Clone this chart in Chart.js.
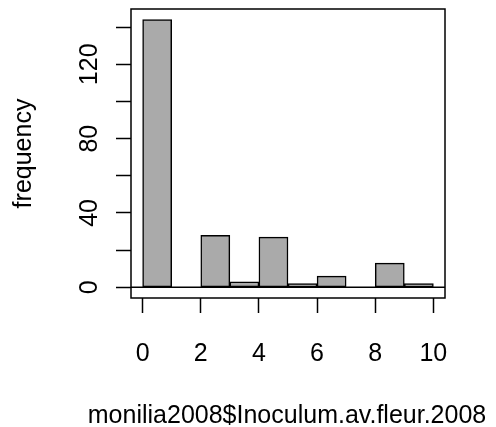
<!DOCTYPE html>
<html>
<head>
<meta charset="utf-8">
<script src="https://cdn.jsdelivr.net/npm/chart.js@4"></script>
<style>
  body { margin: 0; background: #fff; }
  #wrap { width: 496px; height: 427px; }
</style>
</head>
<body>
<div id="wrap"><canvas id="histChart"></canvas></div>
<script>
// histogram bins (width 1) and counts
const binStarts = [0, 1, 2, 3, 4, 5, 6, 7, 8, 9];
const counts = [144, 0, 28, 3, 27, 2, 6, 0, 13, 2];
const xTicks = [0, 2, 4, 6, 8, 10];
const yTicks = [0, 20, 40, 60, 80, 100, 120, 140];
const yLabelled = [0, 40, 80, 120];
const xTitle = 'monilia2008$Inoculum.av.fleur.2008';

const FONT = 'Liberation Sans, Arial, sans-serif';

// R style box, h=0 line, rotated y labels, wide x title
const rStyle = {
  id: 'rStyle',
  afterDraw(chart) {
    const { ctx, chartArea: a, scales } = chart;
    ctx.save();
    ctx.strokeStyle = '#000';
    ctx.lineWidth = 1.5;
    ctx.strokeRect(a.left, a.top, a.right - a.left, a.bottom - a.top);
    const y0 = scales.y.getPixelForValue(0);
    ctx.beginPath();
    ctx.moveTo(a.left, y0);
    ctx.lineTo(a.right, y0);
    ctx.stroke();

    ctx.fillStyle = '#000';
    ctx.font = '25px ' + FONT;
    ctx.textAlign = 'center';
    ctx.textBaseline = 'alphabetic';
    yLabelled.forEach(v => {
      const py = scales.y.getPixelForValue(v);
      ctx.save();
      ctx.translate(96.5, py);
      ctx.rotate(-Math.PI / 2);
      ctx.fillText(String(v), 0, 0);
      ctx.restore();
    });
    ctx.fillText(xTitle, 287, 422.5);
    ctx.restore();
  }
};

new Chart(document.getElementById('histChart'), {
  type: 'bar',
  data: {
    datasets: [{
      data: binStarts.map((b, i) => ({ x: b + 0.5, y: counts[i] })),
      backgroundColor: '#aaaaaa',
      borderColor: '#000',
      borderWidth: 1.5,
      borderSkipped: false,
      barPercentage: 1,
      categoryPercentage: 1
    }]
  },
  options: {
    responsive: true,
    maintainAspectRatio: false,
    animation: false,
    layout: { padding: { top: 9, right: 51, left: 0, bottom: 0 } },
    plugins: {
      legend: { display: false },
      tooltip: { enabled: false }
    },
    scales: {
      x: {
        type: 'linear',
        min: -0.4,
        max: 10.4,
        offset: false,
        afterBuildTicks: s => { s.ticks = xTicks.map(v => ({ value: v })); },
        afterFit: s => { s.height = 129; },
        border: { display: false },
        grid: { offset: false, drawOnChartArea: false, tickLength: 15, tickColor: '#000', tickWidth: 1.5 },
        ticks: { color: '#000', padding: 26, maxRotation: 0, font: { family: FONT, size: 25 } }
      },
      y: {
        min: -5.76,
        max: 149.76,
        afterBuildTicks: s => { s.ticks = yTicks.map(v => ({ value: v })); },
        afterFit: s => { s.width = 131; },
        border: { display: false },
        grid: { drawOnChartArea: false, tickLength: 15, tickColor: '#000', tickWidth: 1.5 },
        ticks: { display: false },
        title: {
          display: true,
          text: 'frequency',
          color: '#000',
          padding: { top: 11.5, bottom: 0 },
          font: { family: FONT, size: 25, lineHeight: 1 }
        }
      }
    }
  },
  plugins: [rStyle]
});
</script>
</body>
</html>
